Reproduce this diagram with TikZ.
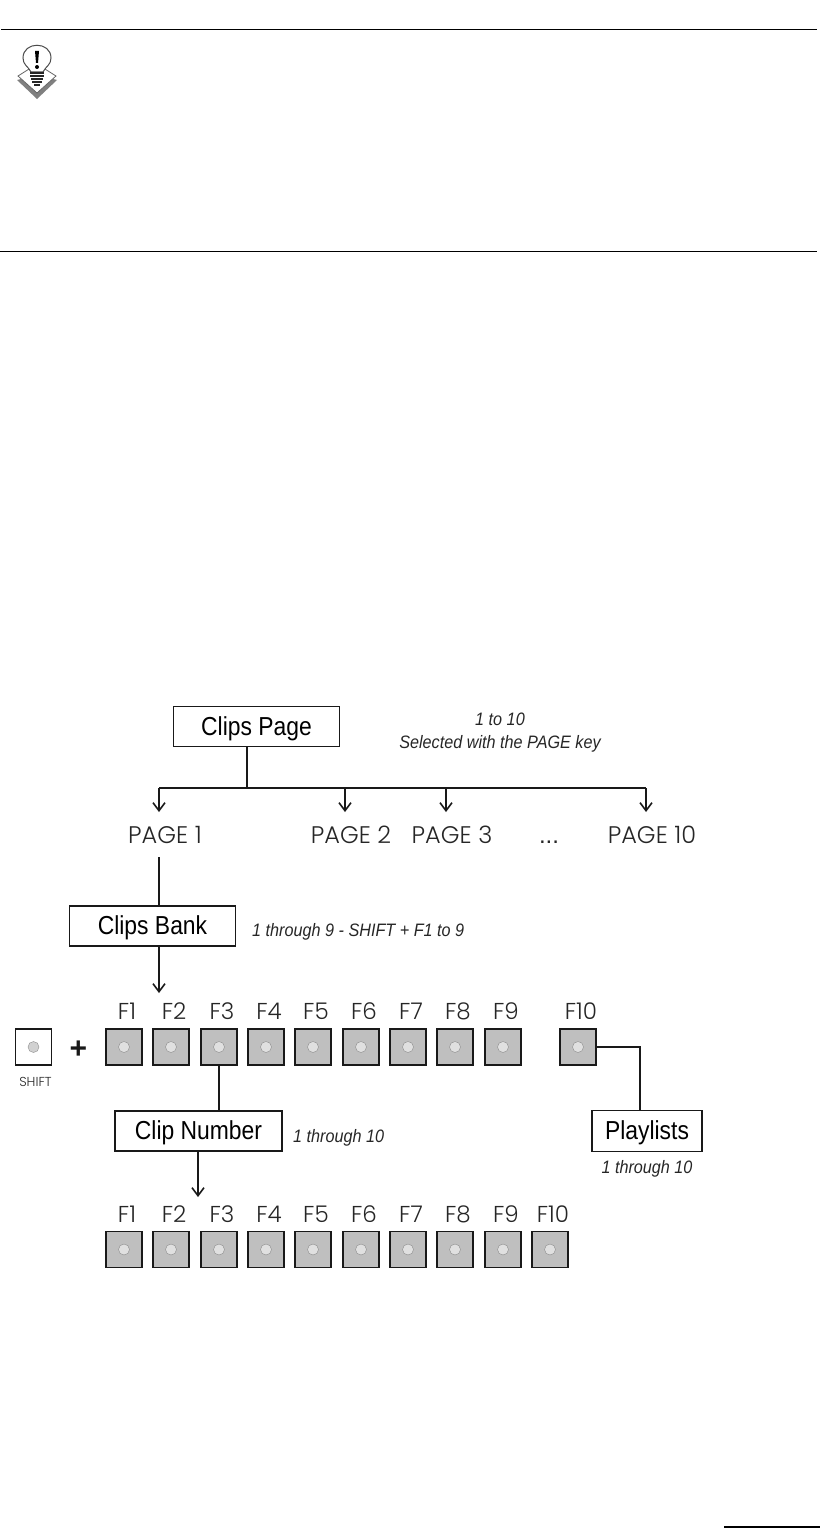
\documentclass[tikz,border=0pt]{standalone}
\usepackage{fontspec}
\setmainfont{Liberation Sans}
\newfontfamily\keyfont{Poppins Light}
\newfontfamily\boxfont[FakeStretch=0.88]{Liberation Sans}
\newfontfamily\notefont[FakeStretch=0.9]{Liberation Sans}
\usepackage{tikz}
\usetikzlibrary{positioning,arrows.meta}

\begin{document}
\begin{tikzpicture}[
    x=1pt, y=-1pt,
    title/.style={draw=black!90, line width=1.6pt, align=center, inner sep=0pt, text height=22pt, text depth=5pt, font=\boxfont\fontsize{26}{28}\selectfont},
    pagelabel/.style={anchor=base, font=\keyfont\fontsize{24}{26}\selectfont, text=black!85},
    keylabel/.style={anchor=base, font=\keyfont\fontsize{23}{25}\selectfont, text=black!85},
    note/.style={font=\notefont\itshape\fontsize{18}{23}\selectfont, align=center, text=black!85, inner sep=0pt},
    fkey/.style={draw=black!90, line width=1.4pt, fill=black!25, minimum size=36pt, inner sep=0pt},
    led/.style={draw=black!45, line width=0.4pt, fill=black!12, circle, minimum size=11pt, inner sep=0pt},
    line/.style={-{Straight Barb[length=8pt,width=12pt]}, line width=1.6pt, black!90},
    wire/.style={line width=1.6pt, black!90}
]
\useasboundingbox (0,0) rectangle (820,1528);

% page rules
\draw[line width=1.2pt] (1,29.5) -- (817,29.5);
\draw[line width=1pt] (0,251.5) -- (817,251.5);
\draw[line width=1.4pt] (724,1527) -- (820,1527);

% note icon
\fill[black!50] (17,80) -- (37,75) -- (57,80) -- (37,99) -- cycle;
\draw[black!60, fill=white, line width=0.8pt] (18,76) -- (37,64) -- (56,76) -- (37,93) -- cycle;
\draw[black!70, fill=white, line width=1pt] (31,72) .. controls (28,66) and (23,65) .. (23,58) .. controls (23,41) and (51,41) .. (51,58) .. controls (51,65) and (46,66) .. (43,72) -- cycle;
\foreach \yy/\ww in {73/7,76/7,79/6,82/5,85/3}
  \draw[black!85, line width=1.4pt] (37-\ww,\yy) -- (37+\ww,\yy);
\fill[black] (35,51) -- (39,51) -- (38,63) -- (36,63) -- cycle;
\fill[black] (37,67) circle (2pt);

% top of the tree
\node[title, minimum width=166pt, minimum height=40pt] (clips) at (256.5,726.5) {Clips Page};
\node[note] (clipsnote) at (500,733) {1 to 10\\Selected with the PAGE key};

\node[pagelabel] (p1) at (165,843) {PAGE 1};
\node[pagelabel] (p2) at (351,843) {PAGE 2};
\node[pagelabel] (p3) at (452,843) {PAGE 3};
\node[anchor=base, font=\fontsize{24}{26}\selectfont, text=black!85] (pdots) at (549,843) {...};
\node[pagelabel] (p10) at (652,843) {PAGE 10};

\coordinate (split) at (247,788);
\coordinate (a1) at (159,812);
\coordinate (a2) at (345,812);
\coordinate (a3) at (446,812);
\coordinate (a10) at (646,812);

\draw[wire] (clips.south -| split) -- (split);
\draw[wire] (a1 |- split) -- (a10 |- split);
\foreach \tip in {a1,a2,a3,a10}
  \draw[line] (\tip |- split) -- (\tip);

% clips bank
\node[title, minimum width=166pt, minimum height=40pt] (bank) at (152.5,926) {Clips Bank};
\node[note, anchor=base west] (banknote) at (252,936) {1 through 9 - SHIFT + F1 to 9};
\coordinate (banktop) at (159,857);
\coordinate (banktip) at (159,993);
\draw[wire] (banktop) -- (bank.north -| banktop);
\draw[line] (bank.south -| banktip) -- (banktip);

% shift key
\node[fkey, fill=white] (shift) at (33.5,1047) {};
\node[led, fill=black!18] (shiftled) at (33.5,1047) {};
\node[anchor=base, font=\keyfont\fontsize{13}{15}\selectfont, text=black!85] (shiftlabel) at (35.5,1086) {SHIFT};
\node[font=\bfseries\fontsize{30}{30}\selectfont, text=black!90] (plus) at (78.5,1050) {+};

% first row of keys
\foreach \n/\xx in {1/124,2/171,3/219,4/266,5/313,6/361,7/408,8/455,9/503,10/578}{
  \node[fkey] (key\n) at (\xx,1047) {};
  \node[led] (led\n) at (\xx,1047) {};
  \node[keylabel] (lab\n) at (\xx+3,1019) {F\n};
}

% clip number
\node[title, minimum width=167pt, minimum height=40pt] (number) at (198.5,1131) {Clip Number};
\node[note, anchor=base west] (numbernote) at (293,1142) {1 through 10};
\coordinate (numbertip) at (198,1197);
\draw[wire] (key3.south) -- (number.north -| key3.south);
\draw[line] (number.south -| numbertip) -- (numbertip);

% playlists
\node[title, minimum width=110pt, minimum height=41pt] (play) at (647,1131) {Playlists};
\node[note, anchor=base] (playnote) at (647,1173) {1 through 10};
\coordinate (bend) at (640,1047);
\draw[wire] (key10.east) -- (bend) -- (play.north -| bend);

% second row of keys
\foreach \n/\xx in {1/124,2/171,3/219,4/266,5/313,6/361,7/408,8/455,9/503,10/550}{
  \node[fkey] (rowkey\n) at (\xx,1249.5) {};
  \node[led] (rowled\n) at (\xx,1249.5) {};
  \node[keylabel] (rowlab\n) at (\xx+3,1222) {F\n};
}
\end{tikzpicture}
\end{document}
